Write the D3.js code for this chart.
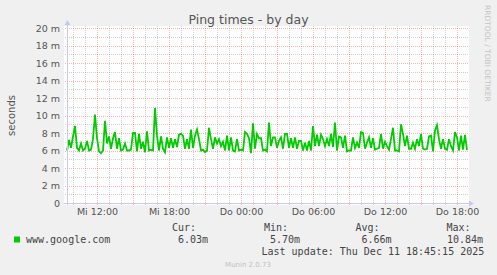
<!DOCTYPE html>
<html>
<head>
<meta charset="utf-8">
<script src="https://cdn.jsdelivr.net/npm/d3@7"></script>
<style>
  body { margin: 0; background: #f0f0f0; }
  svg { display: block; }
</style>
</head>
<body>
<script>
// ping times in milliseconds, one sample every 10 minutes starting Mi 09:30
var startTime = "2025-12-10T09:30:00Z";
var stepMinutes = 10;
var pingMs = [
  6.0, 7.2, 6.3, 7.6, 8.8, 6.3, 6.0, 6.8, 6.0, 6.2,
  7.1, 6.0, 6.1, 7.3, 10.1, 7.4, 5.9, 5.7, 6.0, 9.4,
  6.8, 7.6, 6.2, 7.4, 8.1, 6.2, 7.4, 6.0, 6.1, 6.8,
  6.0, 6.0, 6.1, 8.0, 8.0, 5.9, 7.9, 6.2, 7.0, 5.8,
  8.2, 6.0, 6.1, 6.0, 10.84, 7.7, 6.0, 7.6, 6.2, 5.8,
  7.5, 6.3, 7.4, 6.3, 7.3, 6.4, 7.8, 7.9, 7.7, 6.2,
  7.3, 6.2, 8.4, 6.3, 7.7, 8.4, 7.3, 6.0, 6.1, 5.8,
  6.0, 8.6, 7.3, 6.2, 7.5, 6.8, 7.3, 6.5, 7.0, 6.0,
  7.7, 6.0, 7.5, 6.0, 5.9, 7.3, 6.0, 6.1, 6.0, 8.1,
  7.9, 7.4, 5.7, 9.1, 6.2, 7.9, 7.4, 7.4, 6.0, 6.1,
  5.9, 9.2, 6.5, 7.5, 7.5, 6.3, 7.1, 7.5, 6.2, 7.9,
  7.9, 6.3, 7.4, 6.3, 7.5, 6.2, 7.1, 7.1, 6.0, 6.9,
  6.0, 7.1, 6.0, 8.8, 6.5, 7.8, 6.5, 7.8, 7.3, 6.5,
  7.3, 6.5, 7.9, 6.4, 9.2, 6.0, 7.6, 7.5, 6.3, 7.7,
  5.9, 6.0, 6.0, 7.5, 6.3, 6.9, 6.3, 8.1, 8.0, 6.2,
  6.9, 7.5, 6.3, 7.4, 6.1, 6.2, 6.3, 7.9, 6.2, 7.0,
  6.5, 6.1, 7.3, 8.6, 6.0, 6.0, 5.9, 9.0, 7.9, 6.5,
  7.7, 6.2, 6.2, 6.9, 6.2, 7.3, 6.5, 7.9, 6.2, 6.1,
  6.2, 7.6, 7.7, 5.9, 8.3, 8.9, 7.3, 6.2, 7.3, 6.2,
  6.1, 7.3, 6.5, 6.0, 8.1, 7.5, 6.0, 7.7, 6.1, 7.8,
  6.03
];
var yTicks = [0, 2, 4, 6, 8, 10, 12, 14, 16, 18, 20];
var xTickTimes = ["2025-12-10T12:00:00Z", "2025-12-10T18:00:00Z", "2025-12-11T00:00:00Z",
                  "2025-12-11T06:00:00Z", "2025-12-11T12:00:00Z", "2025-12-11T18:00:00Z"];
var weekdays = ["So", "Mo", "Di", "Mi", "Do", "Fr", "Sa"];
var legendHeads = ["Cur:", "Min:", "Avg:", "Max:"];
var legendValues = ["6.03m", "5.70m", "6.66m", "10.84m"];

var W = 497, H = 275;
var plotL = 67, plotR = 467, plotT = 28, plotB = 203;

var t0 = new Date(startTime);
var data = pingMs.map(function (v, i) {
  return { t: new Date(t0.getTime() + i * stepMinutes * 60000), v: v };
});

var x = d3.scaleUtc().domain([data[0].t, data[data.length - 1].t]).range([plotL, plotR]);
var y = d3.scaleLinear().domain([0, 20]).range([plotB, plotT]);

var svg = d3.select("body").append("svg").attr("width", W).attr("height", H);
svg.append("rect").attr("width", W).attr("height", H).attr("fill", "#f0f0f0");
// canvas
svg.append("rect").attr("x", 64).attr("y", 26).attr("width", 405).attr("height", 179).attr("fill", "#ffffff");

// grid
var majorCol = "rgba(255,0,0,0.3)", minorCol = "rgba(140,140,140,0.4)";
var grid = svg.append("g").attr("shape-rendering", "crispEdges");
d3.range(1, 21).forEach(function (v) {
  var py = Math.round(y(v)) + 0.5;
  grid.append("line")
    .attr("x1", 65).attr("x2", 469).attr("y1", py).attr("y2", py)
    .attr("stroke", v % 2 == 0 ? majorCol : minorCol)
    .attr("stroke-dasharray", "1,1");
});
d3.utcHour.range(x.domain()[0], x.domain()[1]).forEach(function (d) {
  var major = d.getUTCHours() % 3 == 0;
  var px = Math.round(x(d)) + 0.5;
  grid.append("line")
    .attr("x1", px).attr("x2", px).attr("y1", 26).attr("y2", 205)
    .attr("stroke", major ? majorCol : minorCol)
    .attr("stroke-dasharray", "1,1");
});

// series
svg.append("path").datum(data)
  .attr("fill", "none")
  .attr("stroke", "#00cc00")
  .attr("stroke-width", 1.8)
  .attr("d", d3.line().x(function (d) { return x(d.t); }).y(function (d) { return y(d.v); }));

// axes lines with arrows
var axisCol = "#c8c8f0";
svg.append("line").attr("x1", plotL + 0.5).attr("x2", plotL + 0.5).attr("y1", 24).attr("y2", 205)
  .attr("stroke", axisCol).attr("shape-rendering", "crispEdges");
svg.append("line").attr("x1", 64).attr("x2", 469).attr("y1", plotB + 0.5).attr("y2", plotB + 0.5)
  .attr("stroke", axisCol).attr("shape-rendering", "crispEdges");
svg.append("path").attr("d", "M" + (plotL - 2.5) + ",25L" + (plotL + 3.5) + ",25L" + (plotL + 0.5) + ",20Z").attr("fill", axisCol);
svg.append("path").attr("d", "M469," + (plotB - 2.5) + "L469," + (plotB + 3.5) + "L474," + (plotB + 0.5) + "Z").attr("fill", axisCol);

// y axis labels
var yAxis = svg.append("g").attr("transform", "translate(" + plotL + ",0)")
  .call(d3.axisLeft(y).tickValues(yTicks).tickSize(0).tickPadding(7)
    .tickFormat(function (d) { return d == 0 ? "0" : d + " m"; }));
yAxis.select(".domain").remove();
yAxis.selectAll("text").attr("font-family", "DejaVu Sans").attr("font-size", "9.5px").attr("fill", "#555");

// x axis labels
var xAxis = svg.append("g").attr("transform", "translate(0," + plotB + ")")
  .call(d3.axisBottom(x).tickValues(xTickTimes.map(function (s) { return new Date(s); }))
    .tickSize(0).tickPadding(5)
    .tickFormat(function (d) { return weekdays[d.getUTCDay()] + " " + d3.utcFormat("%H:%M")(d); }));
xAxis.select(".domain").remove();
xAxis.selectAll("text").attr("font-family", "DejaVu Sans").attr("font-size", "9.5px").attr("fill", "#555");

// titles
svg.append("text").attr("x", 248.5).attr("y", 24).attr("text-anchor", "middle")
  .attr("font-family", "DejaVu Sans").attr("font-size", "12.5px").attr("fill", "#555")
  .text("Ping times - by day");
svg.append("text").attr("transform", "translate(15,115.5) rotate(-90)").attr("text-anchor", "middle")
  .attr("font-family", "DejaVu Sans").attr("font-size", "10px").attr("fill", "#555")
  .text("seconds");
svg.append("text").attr("transform", "translate(485,5) rotate(90)")
  .attr("font-family", "DejaVu Sans").attr("font-size", "7.5px").attr("fill", "#c4c4c4")
  .text("RRDTOOL / TOBI OETIKER");

// legend
var mono = "DejaVu Sans Mono";
svg.append("rect").attr("x", 14).attr("y", 236.5).attr("width", 6).attr("height", 6).attr("fill", "#00cc00");
svg.append("text").attr("x", 26).attr("y", 242.5).attr("font-family", mono).attr("font-size", "10px")
  .attr("fill", "#444").text("www.google.com");
var headX = [172, 264, 355.5, 446.5];
var valX = [178, 270, 361.5, 447];
legendHeads.forEach(function (h, i) {
  svg.append("text").attr("x", headX[i]).attr("y", 231).attr("font-family", mono).attr("font-size", "10px")
    .attr("fill", "#444").text(h);
  svg.append("text").attr("x", valX[i]).attr("y", 242.5).attr("font-family", mono).attr("font-size", "10px")
    .attr("fill", "#444").text(legendValues[i]);
});
svg.append("text").attr("x", 261.5).attr("y", 254.5).attr("font-family", mono).attr("font-size", "10px")
  .attr("fill", "#444").text("Last update: Thu Dec 11 18:45:15 2025");
svg.append("text").attr("x", 248).attr("y", 267).attr("text-anchor", "middle")
  .attr("font-family", "DejaVu Sans").attr("font-size", "7px").attr("fill", "#c0c0c0")
  .text("Munin 2.0.73");
</script>
</body>
</html>
